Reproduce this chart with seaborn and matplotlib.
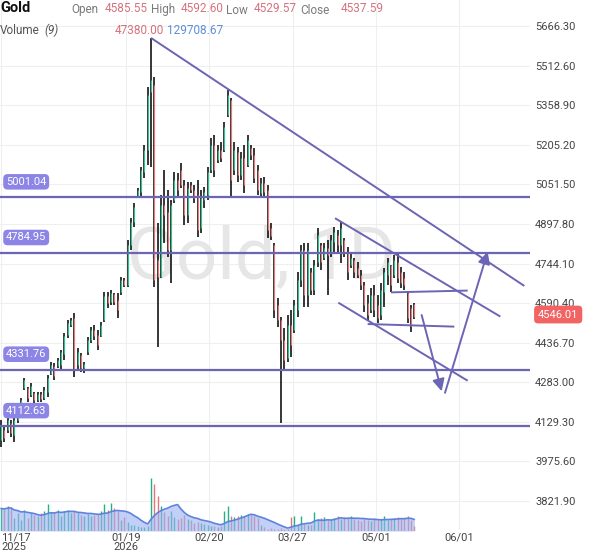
import numpy as np
import pandas as pd
import matplotlib
matplotlib.use("Agg")
import matplotlib.pyplot as plt
import seaborn as sns

# ---------------- data ----------------
opens = [4059, 4098, 4098, 4125, 4078, 4136, 4183, 4261, 4261, 4233,
         4241, 4214, 4237, 4222, 4245, 4315, 4346, 4346, 4350, 4393,
         4466, 4505, 4532, 4350, 4389, 4338, 4401, 4447, 4486, 4466,
         4463, 4524, 4618, 4594, 4626, 4602, 4633, 4680, 4660, 4816,
         4905, 5002, 5022, 5099, 5185, 5410, 5437, 4757, 4691, 4971,
         4944, 4796, 4990, 5068, 5107, 5049, 4932, 5049, 5029, 5010,
         4882, 4990, 5010, 5107, 5204, 5146, 5185, 5185, 5321, 5379,
         5107, 5177, 5088, 5154, 5126, 5192, 5165, 5107, 5018, 5056,
         5029, 4882, 4816, 4583, 4524, 4447, 4377, 4505, 4486, 4563,
         4680, 4796, 4622, 4711, 4641, 4750, 4816, 4765, 4804, 4788,
         4828, 4855, 4816, 4835, 4788, 4738, 4757, 4726, 4699, 4660,
         4591, 4563, 4622, 4583, 4544, 4633, 4699, 4738, 4699, 4750,
         4711, 4688, 4629, 4571, 4585.55]
highs = [4136, 4109, 4144, 4136, 4144, 4195, 4222, 4299, 4265, 4280,
         4245, 4245, 4245, 4265, 4311, 4361, 4358, 4377, 4408, 4474,
         4524, 4532, 4552, 4416, 4397, 4361, 4458, 4497, 4505, 4486,
         4517, 4633, 4633, 4641, 4629, 4629, 4691, 4688, 4835, 4921,
         4979, 5037, 5119, 5204, 5429, 5619, 5468, 4901, 5010, 5107,
         5029, 4990, 5099, 5095, 5134, 5068, 5060, 5060, 5049, 5068,
         5029, 5041, 5119, 5231, 5243, 5204, 5216, 5293, 5418, 5387,
         5216, 5196, 5177, 5204, 5243, 5204, 5192, 5126, 5076, 5080,
         5049, 4901, 4823, 4610, 4536, 4493, 4544, 4563, 4602, 4711,
         4816, 4823, 4823, 4726, 4757, 4882, 4823, 4823, 4835, 4855,
         4886, 4874, 4905, 4843, 4808, 4785, 4765, 4750, 4719, 4672,
         4622, 4649, 4660, 4622, 4668, 4726, 4765, 4738, 4777, 4785,
         4730, 4711, 4633, 4583, 4592.60]
lows = [4032, 4051, 4086, 4070, 4051, 4125, 4175, 4253, 4206, 4225,
        4202, 4206, 4206, 4214, 4225, 4311, 4291, 4338, 4330, 4369,
        4455, 4497, 4303, 4330, 4323, 4319, 4389, 4435, 4447, 4408,
        4458, 4517, 4571, 4583, 4583, 4532, 4622, 4653, 4653, 4796,
        4886, 4998, 5002, 5076, 5126, 5119, 4653, 4420, 4688, 4823,
        4769, 4668, 4979, 5002, 5037, 4893, 4901, 5018, 4979, 4847,
        4862, 4959, 4990, 5095, 5080, 5134, 5138, 5177, 5313, 4998,
        5088, 5060, 5068, 5018, 5119, 5146, 5056, 5010, 5002, 5002,
        4843, 4835, 4532, 4497, 4125, 4330, 4361, 4381, 4474, 4536,
        4653, 4575, 4575, 4622, 4622, 4730, 4719, 4757, 4622, 4769,
        4788, 4785, 4746, 4769, 4680, 4726, 4688, 4688, 4641, 4556,
        4524, 4552, 4536, 4513, 4524, 4575, 4660, 4633, 4688, 4668,
        4649, 4641, 4513, 4478, 4529.57]
closes = [4117, 4067, 4136, 4086, 4136, 4183, 4214, 4291, 4222, 4268,
          4214, 4237, 4218, 4253, 4299, 4350, 4307, 4369, 4401, 4463,
          4513, 4524, 4330, 4401, 4338, 4354, 4447, 4486, 4463, 4427,
          4505, 4618, 4590, 4629, 4594, 4563, 4680, 4660, 4816, 4905,
          4963, 5029, 5107, 5185, 5398, 5457, 4680, 4691, 4971, 4932,
          4796, 4971, 5068, 5029, 5049, 4932, 5037, 5029, 4998, 4874,
          4998, 5022, 5099, 5204, 5107, 5185, 5154, 5274, 5398, 5068,
          5185, 5088, 5154, 5049, 5224, 5165, 5076, 5029, 5056, 5022,
          4874, 4851, 4563, 4524, 4447, 4369, 4505, 4427, 4583, 4680,
          4796, 4622, 4796, 4641, 4738, 4855, 4750, 4804, 4777, 4835,
          4866, 4816, 4882, 4788, 4711, 4765, 4711, 4699, 4660, 4583,
          4544, 4622, 4563, 4532, 4641, 4711, 4750, 4660, 4757, 4688,
          4668, 4660, 4532, 4501, 4537.59]
volume_k = [230, 220, 250, 240, 130, 180, 110, 215, 130, 180,
            165, 150, 180, 200, 275, 180, 190, 215, 150, 200,
            210, 180, 200, 190, 160, 150, 170, 150, 160, 170,
            200, 280, 210, 285, 230, 200, 110, 140, 90, 60,
            60, 50, 45, 40, 50, 537, 480, 357, 250, 190,
            150, 200, 140, 120, 130, 160, 120, 110, 80, 90,
            80, 70, 60, 50, 50, 40, 50, 200, 255, 150,
            140, 150, 160, 150, 170, 160, 150, 130, 60, 40,
            20, 30, 25, 20, 30, 25, 20, 140, 150, 60,
            150, 70, 60, 60, 190, 120, 130, 140, 110, 120,
            130, 150, 120, 140, 130, 150, 120, 110, 100, 120,
            110, 100, 130, 110, 120, 150, 110, 120, 130, 140,
            120, 130, 150, 110, 47.38]

level_values = [5001.04, 4784.95, 4331.76, 4112.63]
price_ticks = [5666.30, 5512.60, 5358.90, 5205.20, 5051.50, 4897.80, 4744.10,
               4590.40, 4436.70, 4283.00, 4129.30, 3975.60, 3821.90]
date_tick_pos = [0, 37.5, 62.5, 87.5, 112.5, 137.5]
date_tick_labels = ["11/17\n2025", "01/19\n2026", "02/20", "03/27", "05/01", "06/01"]

# trend lines (bar index, price)
trend_lines = [
    ((45, 5620), (157, 4657)),
    ((100.2, 4920), (149.8, 4538)),
    ((101.2, 4592), (140.0, 4289)),
    ((117.0, 4632), (140.0, 4639)),
    ((110.0, 4509), (136.0, 4499)),
]
arrows = [
    ((126.2, 4544), (132.2, 4248)),
    ((133.2, 4242), (146.0, 4790)),
]
last_price = 4546.01

# ---------------- style ----------------
sns.set_theme(style="white")
plt.rcParams['font.family'] = ['Roboto', 'DejaVu Sans']

GREEN = '#2ec492'
RED = '#e8797b'
LINE = '#6c64b4'
LABEL_BG = '#8c85e6'

W, H = 600, 558
fig = plt.figure(figsize=(6, 5.58), dpi=100)
fig.patch.set_facecolor('white')

ax = fig.add_axes([0, 28 / H, 530 / W, 530 / H])
ax.set_facecolor('white')
ax.set_xlim(-0.3, 158.7)
ax.set_ylim(3709.3, 5767.3)
for s in ax.spines.values():
    s.set_visible(False)

ax.set_yticks(price_ticks)
ax.set_yticklabels([f"{v:.2f}" for v in price_ticks])
ax.yaxis.tick_right()
ax.tick_params(axis='y', length=0, pad=3.6, labelsize=8, labelcolor='#444444')
ax.set_xticks(date_tick_pos)
ax.set_xticklabels(date_tick_labels, linespacing=0.95)
ax.tick_params(axis='x', length=0, pad=2, labelsize=8, labelcolor='#444444')
ax.get_xticklabels()[0].set_ha('left')
ax.grid(True, color='#efefef', lw=0.8)
ax.set_axisbelow(True)

# watermark
ax.text(78, 4761, 'Gold, 1D', fontsize=52, color='#e6e6e6', ha='center',
        va='center', zorder=1)

n = len(opens)
x = np.arange(n)
o = np.array(opens); c = np.array(closes)
ax.vlines(x, lows, highs, color='black', lw=1.1, zorder=3)
body_colors = np.where(c >= o, GREEN, RED)
ax.vlines(x, o, c, colors=body_colors, lw=0.85, zorder=4)

# levels
for lvl in level_values:
    ax.axhline(lvl, color=LINE, lw=1.6, zorder=5)
    ax.annotate(f"{lvl:.2f}", xy=(0, lvl), xycoords=('axes fraction', 'data'),
                xytext=(6, 15.5), textcoords='offset pixels', ha='left', va='center',
                color='white', fontsize=8,
                bbox=dict(boxstyle='round,pad=0.25,rounding_size=0.4', fc=LABEL_BG, ec='none'),
                zorder=6)

for (x0, y0), (x1, y1) in trend_lines:
    ax.plot([x0, x1], [y0, y1], color=LINE, lw=1.4, zorder=5, solid_capstyle='butt')
for (x0, y0), (x1, y1) in arrows:
    ax.annotate('', xy=(x1, y1), xytext=(x0, y0),
                arrowprops=dict(arrowstyle='-|>', color=LINE, lw=1.4,
                                mutation_scale=18, shrinkA=0, shrinkB=0), zorder=6)

# last price tag
ax.annotate(f"{last_price:.2f}", xy=(1, last_price), xycoords=('axes fraction', 'data'),
            xytext=(8, 0), textcoords='offset pixels', ha='left', va='center',
            color='white', fontsize=8, annotation_clip=False,
            bbox=dict(boxstyle='round,pad=0.35', fc='#f26363', ec='none'), zorder=10)

# ---------------- volume ----------------
vax = fig.add_axes([0, 27 / H, 530 / W, 61 / H])
vax.patch.set_alpha(0)
vol = np.array(volume_k)
vol_colors = np.where(c >= o, '#22b08a', '#e3787a')
vax.vlines(x, 0, vol, colors=vol_colors, lw=1.0, zorder=2)
ma = pd.Series(vol).rolling(9, min_periods=1).mean()
vax.fill_between(x, 0, ma, color='#9db2f2', alpha=0.62, lw=0, zorder=3)
sns.lineplot(x=x, y=ma.values, ax=vax, color='#5f82dc', lw=1.2, zorder=4)
vax.set_xlim(-0.3, 158.7)
vax.set_ylim(0, 622)
vax.axis('off')

# ---------------- header ----------------
def ftxt(px, py, s, **kw):
    fig.text(px / W, 1 - py / H, s, ha='left', va='center', **kw)

ftxt(0, 8, 'Gold', fontsize=10.5, fontweight='bold', color='#111111')
GREY = '#7a7a7a'
VALRED = '#d6727c'
ftxt(71, 10, 'Open', fontsize=8.5, color=GREY)
ftxt(105, 9, '4585.55', fontsize=8.5, color=VALRED)
ftxt(151, 10, 'High', fontsize=8.5, color=GREY)
ftxt(181, 9, '4592.60', fontsize=8.5, color=VALRED)
ftxt(226, 10, 'Low', fontsize=8.5, color=GREY)
ftxt(254, 9, '4529.57', fontsize=8.5, color=VALRED)
ftxt(300, 10, 'Close', fontsize=8.5, color=GREY)
ftxt(341, 9, '4537.59', fontsize=8.5, color=VALRED)
ftxt(0, 30, 'Volume', fontsize=8.5, color='#555555')
ftxt(44, 30, '(9)', fontsize=8.5, color='#555555', fontstyle='italic')
ftxt(115, 30, '47380.00', fontsize=8.5, color=VALRED)
ftxt(167, 30, '129708.67', fontsize=8.5, color='#5d8fd8')

fig.savefig('out.png', dpi=100, facecolor='white')
